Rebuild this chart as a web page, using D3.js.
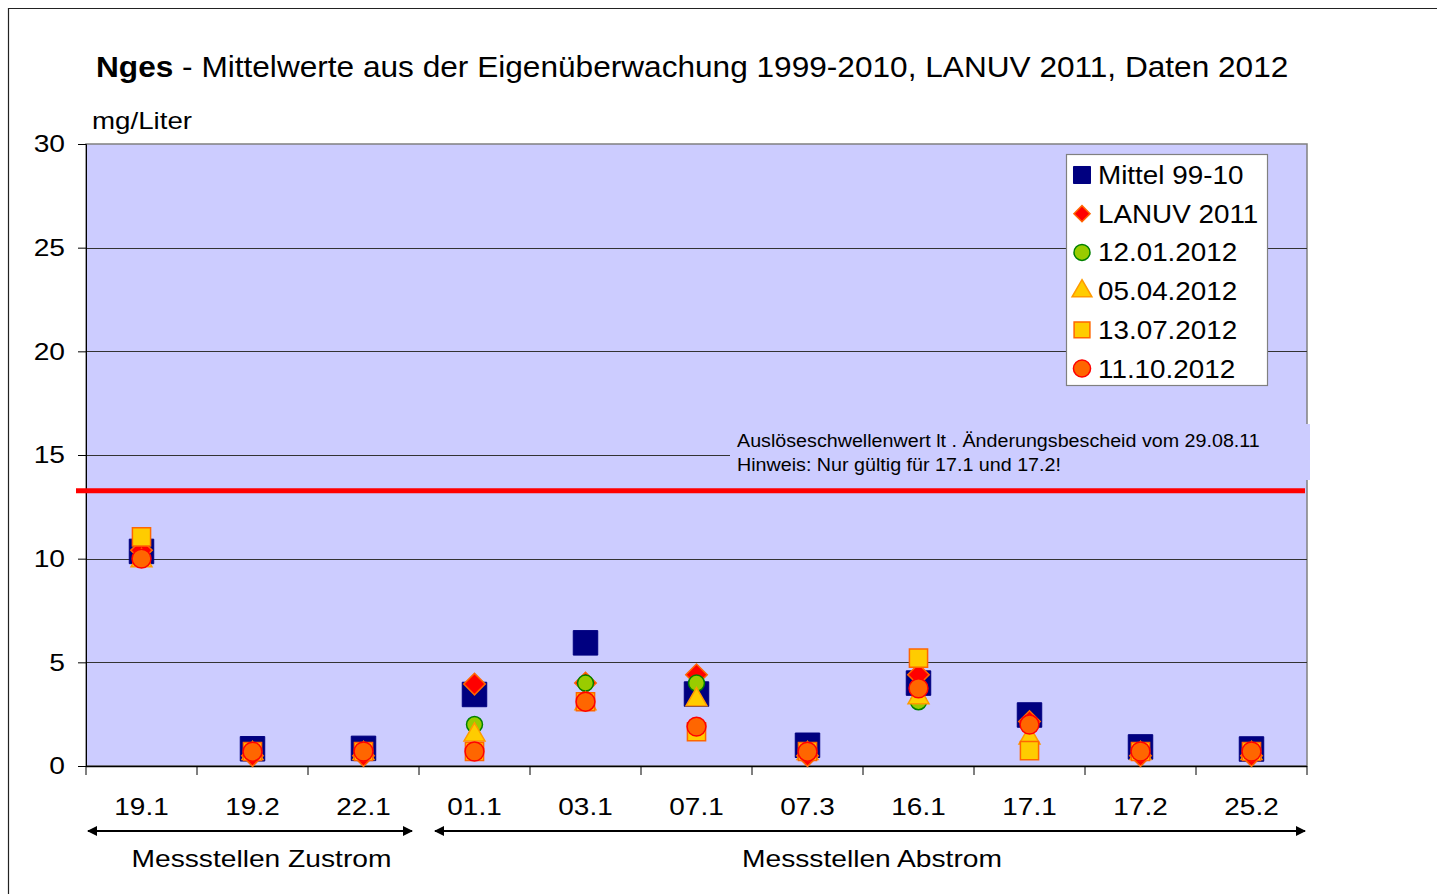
<!DOCTYPE html>
<html><head><meta charset="utf-8">
<script src="https://cdn.jsdelivr.net/npm/d3@7"></script>
<style>body{margin:0;background:#fff;}svg{display:block;font-family:"Liberation Sans",Arial,sans-serif;}</style>
</head><body><svg id="c" width="1437" height="894"></svg>
<script>
const categories = ["19.1","19.2","22.1","01.1","03.1","07.1","07.3","16.1","17.1","17.2","25.2"];
const mittel   = [10.35, 0.83, 0.85, 3.45, 5.94, 3.47, 1.0, 4.0, 2.46, 0.92, 0.82];
const lanuv    = [10.4, 0.5, 0.5, 3.95, 4.0, 4.4, 0.5, 4.4, 2.15, 0.5, 0.5];
const d120112  = [10.0, 0.7, 0.7, 2.0, 4.0, 4.0, 0.7, 3.1, 2.0, 0.7, 0.7];
const d050412  = [9.9, 0.6, 0.6, 1.5, 3.0, 3.2, 0.6, 3.3, 1.35, 0.6, 0.6];
const d130712  = [11.05, 0.7, 0.7, 0.7, 3.1, 1.65, 0.7, 5.2, 0.74, 0.7, 0.7];
const d111012  = [10.0, 0.69, 0.7, 0.7, 3.1, 1.9, 0.69, 3.75, 2.0, 0.7, 0.7];
const seriesNames = ["Mittel 99-10","LANUV 2011","12.01.2012","05.04.2012","13.07.2012","11.10.2012"];
const yTicks = [0,5,10,15,20,25,30];
const threshold = 13.27;
const groups = [{label:"Messstellen Zustrom", from:"19.1", to:"22.1"},{label:"Messstellen Abstrom", from:"01.1", to:"25.2"}];

const styles = [
  {sym:d3.symbolSquare, size:600, fill:"#000080", stroke:"#000080", sw:1, rot:0},
  {sym:d3.symbolSquare, size:230, fill:"#ff0000", stroke:"#ff6600", sw:1.5, rot:45},
  {sym:d3.symbolCircle, size:200, fill:"#99cc00", stroke:"#008000", sw:1.5, rot:0},
  {sym:d3.symbolTriangle, size:190, fill:"#ffcc00", stroke:"#ff9900", sw:1.5, rot:0},
  {sym:d3.symbolSquare, size:330, fill:"#ffcc00", stroke:"#ff6600", sw:1.5, rot:0},
  {sym:d3.symbolCircle, size:280, fill:"#ff6600", stroke:"#ff0000", sw:1.5, rot:0}
];
const legendSizes = [290,130,200,170,250,230];
const seriesData = [mittel,lanuv,d120112,d050412,d130712,d111012];

const svg = d3.select("#c");
const L=86, R=1307, T=144, B=766;
const x = d3.scaleBand().domain(categories).range([L,R]);
const y = d3.scaleLinear().domain([0,30]).range([B,T]);

function stretch(sel,k){
  sel.each(function(){
    const w=this.getComputedTextLength();
    d3.select(this).attr("textLength",w*k).attr("lengthAdjust","spacingAndGlyphs");
  });
}

// outer frame
svg.append("path").attr("d","M8.5,894 V8.5 H1437").attr("fill","none").attr("stroke","#222").attr("stroke-width",1.2);

// title
const title = svg.append("text").attr("transform","translate(96,77) scale(1.09,1)").attr("font-size",29).attr("fill","#000");
title.append("tspan").attr("font-weight","bold").text("Nges");
title.append("tspan").text(" - Mittelwerte aus der Eigenüberwachung 1999-2010, LANUV 2011, Daten 2012");

svg.append("text").attr("x",92).attr("y",129).attr("font-size",24.5).text("mg/Liter").call(stretch,1.13);

// plot bg
svg.append("rect").attr("x",L).attr("y",T).attr("width",R-L).attr("height",B-T).attr("fill","#ccccff").attr("stroke","#808080").attr("stroke-width",1.5);

// gridlines
svg.append("g").selectAll("line").data(yTicks.filter(v=>v>0&&v<30)).join("line")
  .attr("x1",L).attr("x2",R).attr("y1",d=>Math.round(y(d))+0.5).attr("y2",d=>Math.round(y(d))+0.5)
  .attr("stroke","#333").attr("stroke-width",1);

// y axis
const yAxis = d3.axisLeft(y).tickValues(yTicks).tickSize(8).tickPadding(13);
const ga = svg.append("g").attr("transform",`translate(${L},0)`).call(yAxis);
ga.select(".domain").attr("stroke","#000");
ga.selectAll(".tick line").attr("stroke","#000");
ga.selectAll("text").attr("font-size",24.5).attr("font-family","Liberation Sans, Arial, sans-serif").attr("fill","#000").call(stretch,1.15);

// x axis
const xb = svg.append("g").attr("transform",`translate(0,${B})`);
xb.append("line").attr("x1",L).attr("x2",R).attr("y1",0.5).attr("y2",0.5).attr("stroke","#000").attr("stroke-width",1.5);
const bounds = categories.map(c=>x(c)).concat([R]);
xb.selectAll("line.t").data(bounds).join("line").attr("class","t")
  .attr("x1",d=>d).attr("x2",d=>d).attr("y1",0).attr("y2",9).attr("stroke","#000");
xb.selectAll("text").data(categories).join("text")
  .attr("x",d=>x(d)+x.bandwidth()/2).attr("y",49).attr("text-anchor","middle").attr("font-size",24.5).text(d=>d).call(stretch,1.14);

// annotation box
svg.append("rect").attr("x",730).attr("y",424).attr("width",580).attr("height",56).attr("fill","#ccccff");
svg.append("text").attr("x",737).attr("y",447).attr("font-size",17.5).text("Auslöseschwellenwert lt . Änderungsbescheid vom 29.08.11").call(stretch,1.125);
svg.append("text").attr("x",737).attr("y",471).attr("font-size",17.5).text("Hinweis: Nur gültig für 17.1 und 17.2!").call(stretch,1.125);

// threshold line
svg.append("line").attr("x1",76).attr("x2",1305).attr("y1",y(threshold)).attr("y2",y(threshold))
  .attr("stroke","#ff0000").attr("stroke-width",5);

// markers
seriesData.forEach((vals,i)=>{
  const st = styles[i];
  svg.append("g").selectAll("path").data(vals).join("path")
    .attr("d",d3.symbol(st.sym,st.size))
    .attr("transform",(d,j)=>`translate(${x(categories[j])+x.bandwidth()/2},${y(d)}) rotate(${st.rot})`)
    .attr("fill",st.fill).attr("stroke",st.stroke).attr("stroke-width",st.sw);
});

// legend
const lg = svg.append("g");
lg.append("rect").attr("x",1066.5).attr("y",154.5).attr("width",201).attr("height",231).attr("fill","#fff").attr("stroke","#808080").attr("stroke-width",1.2);
seriesNames.forEach((n,i)=>{
  const cy = 175 + i*38.7;
  const st = styles[i];
  lg.append("path").attr("d",d3.symbol(st.sym,legendSizes[i])).attr("transform",`translate(1082,${cy}) rotate(${st.rot})`)
    .attr("fill",st.fill).attr("stroke",st.stroke).attr("stroke-width",st.sw);
  lg.append("text").attr("x",1098).attr("y",cy+9).attr("font-size",26).text(n).call(stretch,1.07);
});

// group arrows
const defs = svg.append("defs");
defs.append("marker").attr("id","ah").attr("viewBox","0 0 10 10").attr("refX",9).attr("refY",5)
  .attr("markerWidth",6).attr("markerHeight",5).attr("orient","auto-start-reverse").attr("markerUnits","strokeWidth")
  .append("path").attr("d","M0,0 L10,5 L0,10 z").attr("fill","#000");
groups.forEach((g,i)=>{
  const gx1 = x(g.from), gx2 = x(g.to)+x.bandwidth();
  const x1 = i===0 ? gx1+2 : gx1+16;
  const x2 = i===0 ? gx2-7 : gx2-2;
  svg.append("line").attr("x1",x1).attr("x2",x2).attr("y1",831).attr("y2",831)
    .attr("stroke","#000").attr("stroke-width",2).attr("marker-start","url(#ah)").attr("marker-end","url(#ah)");
  svg.append("text").attr("x",(gx1+gx2)/2+9).attr("y",867).attr("text-anchor","middle").attr("font-size",24.5).text(g.label).call(stretch,1.15);
});
</script></body></html>
